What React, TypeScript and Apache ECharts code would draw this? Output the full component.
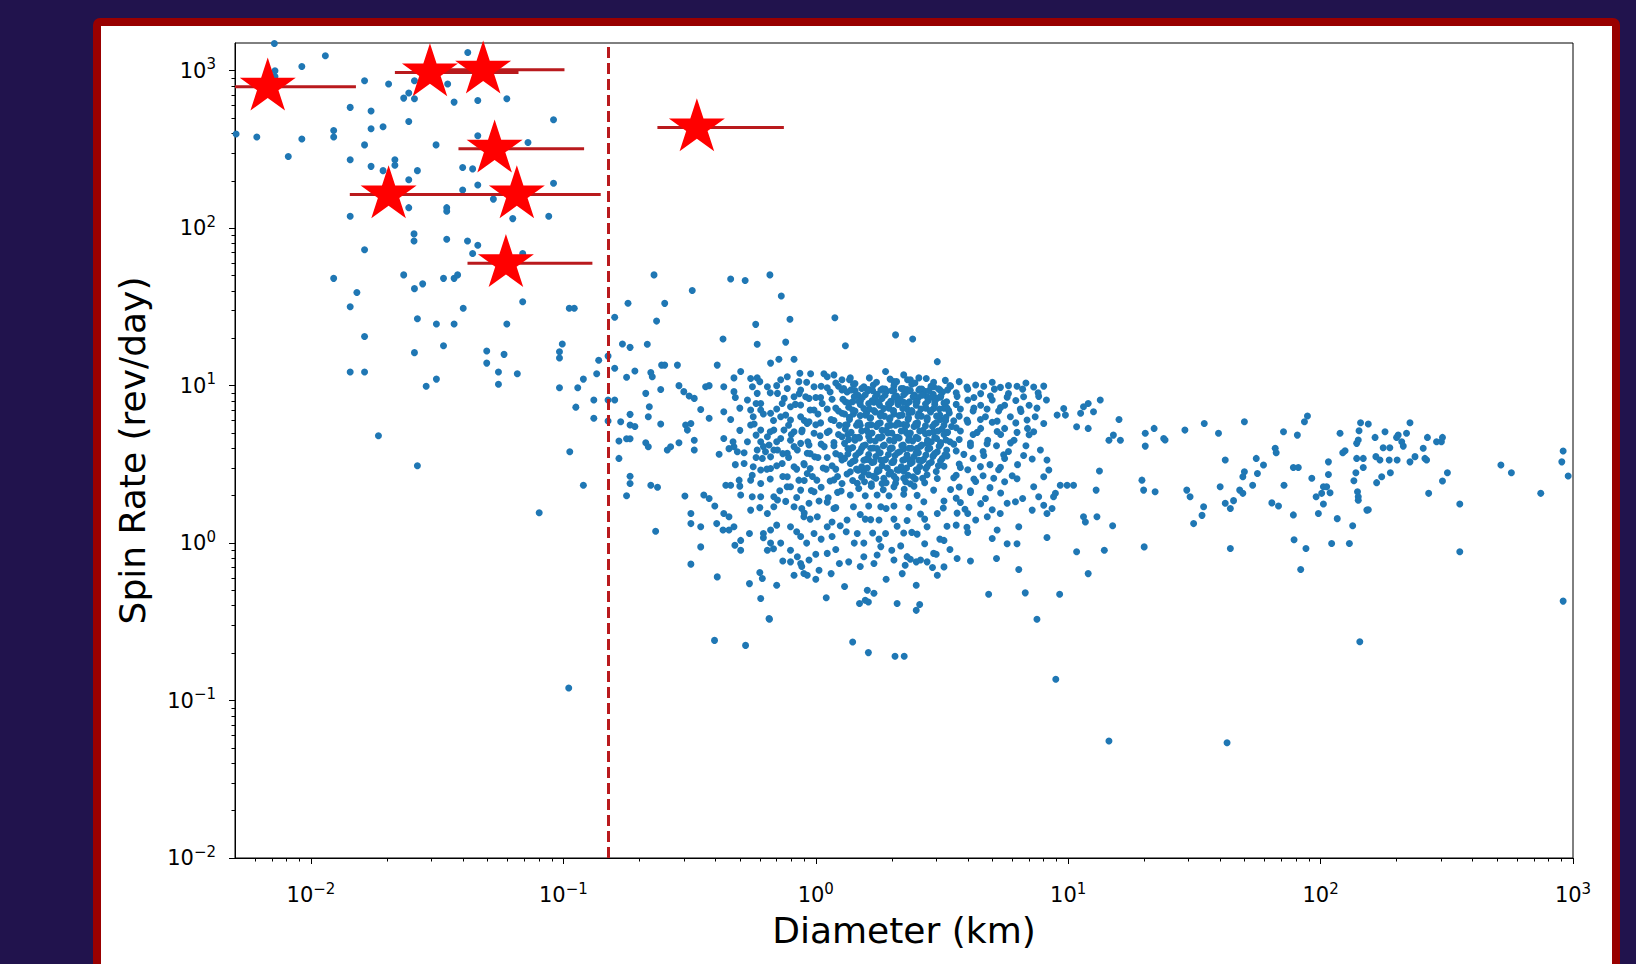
import React, { useEffect, useRef } from 'react';
import * as echarts from 'echarts';

const FONT = 'DejaVu Sans';

// Tick values
const xMajorTicks = [0.01, 0.1, 1, 10, 100, 1000];
const yMajorTicks = [0.01, 0.1, 1, 10, 100, 1000];

// Small bodies (left of the 150 m line)
const smallBodies: number[][] = [
  [0.00716,1490],[0.0114,1245],[0.0092,1065],[0.0072,1000],[0.0072,920],[0.0418,1307],[0.0163,863],[0.0203,823],
  [0.0257,863],[0.0233,670],[0.0244,722],[0.0257,664],[0.0348,823],[0.0369,632],[0.0458,647],[0.0597,664],
  [0.0143,585],[0.0173,555],[0.0244,476],[0.0914,488],[0.00505,396],[0.0061,379],[0.0092,368],[0.0123,417],
  [0.0123,379],[0.0173,428],[0.0193,441],[0.0163,338],[0.0313,338],[0.0458,386],[0.0724,350],[0.00813,285],
  [0.0143,272],[0.0173,247],[0.0215,272],[0.0215,251],[0.0193,232],[0.0264,232],[0.0244,203],[0.0399,243],
  [0.0437,238],[0.0399,175],[0.0458,188],[0.0528,153],[0.0914,193],[0.0143,119],[0.0244,135],[0.0345,135],
  [0.0345,128],[0.063,115],[0.0875,119],[0.0256,92],[0.0256,83],[0.0163,73],[0.0345,85],[0.0417,83],
  [0.0458,78],[0.0437,69],[0.069,69],[0.0123,48],[0.0152,39],[0.0143,31.7],[0.0233,50.5],[0.0257,41.3],
  [0.0277,44.3],[0.0335,48],[0.0369,48],[0.0381,50.5],[0.0264,26.6],[0.0314,24.6],[0.0369,24.6],[0.0401,31],
  [0.0597,24.6],[0.069,34.1],[0.1055,31],[0.1104,31],[0.0163,20.5],[0.0257,16.2],[0.0335,17.9],[0.0497,16.6],
  [0.0497,13.9],[0.0582,15.8],[0.0553,12.2],[0.0553,10.2],[0.0657,11.9],[0.0143,12.2],[0.0163,12.2],[0.0286,9.9],
  [0.0314,11],[0.0965,16.4],[0.0965,15],[0.099,18.4],[0.138,14.5],[0.1355,11.9],[0.12,11],[0.114,9.7],
  [0.0965,9.7],[0.132,8.1],[0.132,6.2],[0.112,7.3],[0.0185,4.8],[0.0264,3.1],[0.106,3.8],[0.12,2.33],
  [0.0802,1.56],[0.105,0.12]
];

// Transition region (0.15 - 0.7 km)
const transitionBodies: number[][] = [
  [0.1503,8.1],[0.1503,5.96],[0.1503,15.4],[0.1597,27.2],[0.1597,12.9],[0.1597,8.1],[0.1803,33.4],[0.1714,18.4],
  [0.1837,17.5],[0.178,11.3],[0.192,12.4],[0.1687,5.9],[0.1837,6.57],[0.1837,5.62],[0.192,5.5],[0.166,4.45],
  [0.178,4.6],[0.1837,4.6],[0.166,3.45],[0.1837,2.66],[0.1837,2.39],[0.178,2.0],
  [0.2286,50.5],[0.234,25.7],[0.215,18.3],[0.252,33.3],[0.245,13.5],[0.252,13.5],[0.222,12.1],[0.225,11.4],
  [0.212,8.93],[0.243,9.46],[0.219,7.35],[0.217,6.35],[0.243,5.7],[0.212,4.34],[0.217,4.09],[0.258,3.9],
  [0.266,4.09],[0.222,2.33],[0.236,2.26],[0.232,1.19],
  [0.283,13.5],[0.324,40.2],[0.287,10],[0.30,9.16],[0.315,8.6],[0.33,8.3],[0.305,5.62],[0.32,5.75],
  [0.31,5.22],[0.287,4.34],[0.33,4.5],[0.33,3.9],[0.35,7.06],[0.366,9.85],[0.378,10],[0.303,1.99],
  [0.32,1.54],[0.32,1.33],[0.35,1.27],[0.35,0.946],[0.32,0.735],[0.36,2.02],[0.378,1.92],
  [0.407,13.5],[0.429,19.8],[0.46,47.6],[0.432,9.85],[0.474,9.16],[0.474,11.2],[0.504,12.3],[0.378,6.2],
  [0.432,6.82],[0.432,4.62],[0.414,3.67],[0.453,3.98],[0.474,4.09],[0.489,3.8],[0.44,2.33],[0.46,2.33],
  [0.398,1.72],[0.405,1.33],[0.432,1.54],[0.453,1.47],[0.429,1.21],[0.453,1.21],[0.474,1.27],[0.478,0.97],
  [0.504,0.90],[0.504,1.04],[0.407,0.61],[0.497,2.51],[0.504,2.02],
  [0.525,46.5],[0.658,50.5],[0.578,24.5],[0.586,18.3],[0.552,11.1],[0.586,11.2],[0.662,13.9],[0.561,9.85],
  [0.586,8.93],[0.536,8.11],[0.605,7.71],[0.643,9.85],[0.552,7.0],[0.605,7.0],[0.565,6.35],[0.662,6.67],
  [0.552,5.62],[0.605,5.22],[0.643,4.73],[0.682,5.22],[0.536,4.4],[0.605,4.4],[0.653,4.2],[0.586,3.9],
  [0.632,3.8],[0.682,3.9],[0.614,3.45],[0.662,3.53],[0.52,3.2],[0.565,3.05],[0.605,2.91],[0.662,2.98],
  [0.552,2.51],[0.605,2.39],[0.605,1.97],[0.682,1.97],[0.552,1.62],[0.643,1.54],[0.682,1.70],[0.546,1.15],
  [0.62,1.15],[0.662,1.21],[0.662,1.0],[0.643,0.90],[0.546,0.553],[0.614,0.596],[0.605,0.445],[0.653,0.332],
  [0.397,0.241],[0.527,0.224]
];

// Main-belt cluster (0.7 - 10 km), outer parts
const mainBelt: number[][] = [
  [0.73,37.1],[0.79,26.4],[0.76,18.9],[0.714,14.7],[0.82,14.7],[0.726,10.9],[0.771,11.4],[0.865,12],
  [0.857,10.6],[0.705,8.93],[0.771,9.6],[0.82,8.5],[0.871,9.38],[0.736,7.71],[0.794,7.35],[0.871,7.53],
  [0.912,8.5],[0.726,6.35],[0.794,6.05],[0.871,6.35],[0.925,5.75],[0.748,5.22],[0.82,5.1],[0.883,5.22],
  [0.726,4.62],[0.794,4.5],[0.871,4.3],[0.705,3.9],[0.771,3.72],[0.845,3.9],[0.925,3.72],[0.736,3.2],
  [0.82,3.05],[0.897,3.2],[0.771,2.64],[0.857,2.51],[0.925,2.77],[0.794,2.28],[0.871,2.17],[0.705,1.88],
  [0.82,1.70],[0.897,1.47],[0.794,1.27],[0.871,1.10],[0.726,1.0],[0.794,0.9],[0.845,0.818],[0.794,0.76],
  [0.871,0.742],[0.82,0.625],[0.897,0.641],[0.925,0.625],[0.655,0.328],
  [0.954,11.9],[1.077,11.9],[1.11,11.4],[1.18,11.7],[1.19,27],
  [0.984,9.85],[1.11,9.7],[1.23,9.9],[0.94,8.3],[1.045,8.4],[1.16,8.2],[0.984,7.0],[1.11,7.1],
  [1.23,6.9],[0.94,5.9],[1.045,5.8],[1.18,6.0],[0.984,4.98],[1.11,5.05],[1.23,4.9],[0.94,4.2],
  [1.05,4.25],[1.18,4.15],[0.99,3.53],[1.11,3.5],[1.25,3.6],[0.95,2.98],[1.07,3.0],[1.2,2.95],
  [1.01,2.51],[1.14,2.48],[0.984,2.12],[1.22,2.1],[0.94,1.79],[1.11,1.82],[1.014,1.47],[1.11,1.27],
  [1.16,1.36],[0.984,1.15],[1.16,1.1],[0.94,0.78],[1.11,0.86],[1.24,0.742],[1.03,0.673],
  [1.27,10.9],[1.37,11.2],[1.55,9.85],[1.31,17.9],
  [1.27,9.38],[1.43,9.3],[1.62,9.45],[1.31,7.9],[1.5,7.95],[1.70,7.85],[1.27,6.67],[1.41,6.6],
  [1.59,6.7],[1.31,5.62],[1.5,5.6],[1.66,5.65],[1.27,4.73],[1.43,4.7],[1.62,4.76],[1.34,3.99],
  [1.52,4.0],[1.27,3.37],[1.43,3.35],[1.62,3.4],[1.37,2.84],[1.55,2.82],[1.27,2.39],[1.46,2.4],
  [1.66,2.38],[1.37,2.02],[1.57,2.0],[1.41,1.70],[1.62,1.72],[1.33,1.4],[1.57,1.42],[1.46,1.15],
  [1.68,1.16],[1.42,1.0],[1.55,0.818],[1.70,0.742],[1.6,0.502],[1.57,0.434],
  [1.40,0.2355],[1.616,0.2016],[2.06,0.191],[2.24,0.191],[1.49,0.413],[1.616,0.423],[2.1,0.413],[2.5,0.374],
  [2.58,0.407],
  [1.89,12.3],[2.04,10.6],[2.23,11.7],[2.37,10.9],[2.56,11.2],[2.07,21],[2.42,19.8],
  [1.81,9.38],[2.04,9.3],[2.30,9.45],[2.56,9.35],[1.75,7.9],[1.98,7.95],[2.23,7.85],[2.52,7.9],
  [1.81,6.67],[2.04,6.6],[2.34,6.7],[2.56,6.65],[1.75,5.62],[1.98,5.6],[2.23,5.66],[2.52,5.6],
  [1.83,4.73],[2.07,4.7],[2.34,4.76],[1.75,3.99],[1.98,4.02],[2.23,3.96],[2.52,4.0],[1.81,3.37],
  [2.04,3.35],[2.34,3.4],[2.56,3.36],[1.75,2.84],[1.98,2.82],[2.23,2.86],[1.83,2.39],[2.07,2.4],
  [2.37,2.38],[1.75,2.02],[1.95,2.0],[2.23,2.04],[2.52,2.01],[1.81,1.70],[2.04,1.72],[2.34,1.69],
  [1.78,1.4],[2.04,1.42],[2.30,1.39],[1.89,1.15],[2.23,1.16],[2.52,1.14],[1.81,0.95],[2.17,0.96],
  [2.04,0.78],[2.37,0.79],
  [3.03,14.2],[8.0,9.93],[9.6,7.16],[9.75,6.5],[9.04,6.5],[3.63,0.798],[3.03,0.625],[3.22,0.706],
  [2.26,0.724],[2.3,0.82],[2.6,0.78],[2.76,0.76],[4.78,1.47],[5.23,1.21],[5.73,0.99],[6.27,0.99],
  [5.73,1.79],[6.18,1.83],[5.38,1.54],[6.37,1.27],[7.2,1.62],[8.0,1.74],[8.24,1.54],[8.63,1.66],
  [7.64,1.97],[8.75,1.97],[9.3,2.33],[9.9,2.33],[8.9,2.07],[7.76,3.9],[8.24,3.37],[8.38,2.91],
  [8.0,2.64],[7.3,2.28],[5.2,0.798],[6.37,0.68],[6.76,0.483],[4.84,0.473],[9.25,0.473],[8.24,1.086],
  [7.52,0.328],[8.93,0.1365],
  [2.93,9.84],[3.42,9.9],[3.97,9.8],[4.63,9.9],[5.39,9.75],[6.27,9.9],[7.30,9.8],
  [2.76,8.5],[3.12,8.45],[3.63,8.55],[4.23,8.4],[4.92,8.6],[5.73,8.45],[6.66,8.5],[7.64,8.55],
  [2.93,7.16],[3.31,7.2],[3.74,7.1],[4.23,7.2],[4.77,7.1],[5.39,7.25],[6.46,7.1],[7.52,7.2],
  [2.76,6.04],[3.12,6.1],[3.52,5.98],[3.97,6.05],[4.49,6.1],[5.23,5.95],[6.87,6.05],
  [2.93,5.1],[3.31,5.05],[3.74,5.15],[4.36,5.05],[5.23,5.12],[6.27,5.05],[7.30,5.1],
  [2.76,4.3],[3.12,4.35],[3.52,4.25],[4.10,4.32],[4.77,4.28],[5.91,4.33],
  [2.93,3.62],[3.31,3.58],[3.86,3.66],[4.63,3.6],[5.55,3.64],[6.66,3.6],
  [2.76,3.05],[3.22,3.08],[3.74,3.02],[4.49,3.06],[5.39,3.03],
  [3.03,2.57],[3.52,2.6],[4.23,2.55],[5.07,2.58],[6.27,2.56],
  [2.93,2.17],[3.42,2.19],[4.10,2.15],[2.68,1.83],[3.22,1.85],[3.74,1.81],
  [3.03,1.54],[3.63,1.55],[2.76,1.27],[3.31,1.28],[3.97,1.26],[3.22,1.04],[2.93,0.86]
];

// Densest part of the main-belt cluster (1.3 - 3.4 km)
const coreCluster: number[][] = [
  [1.36,10.9],[1.63,11.2],[1.97,11.0],[2.31,10.9],[2.74,11.1],[3.26,10.8],
  [1.29,9.6],[1.41,10.2],[1.56,9.7],[1.69,10.1],[1.88,9.5],[2.04,10.0],[2.22,9.6],[2.4,10.2],[2.63,9.5],[2.86,9.9],[3.1,9.4],[3.4,10.0],
  [1.33,9.1],[1.47,8.7],[1.61,9.3],[1.75,8.8],[1.91,9.2],[2.09,8.6],[2.27,9.0],[2.46,8.7],[2.7,9.2],[2.92,8.8],[3.18,9.1],
  [1.28,8.2],[1.4,7.9],[1.53,8.4],[1.67,8.0],[1.83,8.3],[1.99,7.8],[2.16,8.2],[2.35,7.9],[2.55,8.4],[2.78,8.0],[3.02,8.3],[3.3,7.9],
  [1.35,7.3],[1.5,7.6],[1.63,7.1],[1.79,7.5],[1.95,7.2],[2.12,7.6],[2.3,7.1],[2.5,7.5],[2.73,7.2],[2.96,7.6],[3.22,7.2],
  [1.3,6.6],[1.43,6.9],[1.57,6.5],[1.72,6.8],[1.87,6.4],[2.03,6.9],[2.2,6.5],[2.41,6.8],[2.62,6.4],[2.85,6.8],[3.1,6.5],[3.38,6.7],
  [1.36,6.1],[1.49,5.8],[1.64,6.2],[1.8,5.8],[1.96,6.1],[2.14,5.7],[2.32,6.1],[2.53,5.8],[2.76,6.2],[3.0,5.8],[3.27,6.0],
  [1.31,5.3],[1.45,5.6],[1.59,5.2],[1.74,5.5],[1.9,5.2],[2.07,5.6],[2.25,5.2],[2.45,5.5],[2.66,5.2],[2.9,5.5],[3.16,5.3],[3.45,5.5],
  [1.34,4.9],[1.48,4.7],[1.62,5.0],[1.77,4.7],[1.93,5.0],[2.11,4.7],[2.29,5.0],[2.5,4.7],[2.72,4.95],[2.96,4.7],[3.22,4.9],
  [1.3,4.3],[1.43,4.5],[1.57,4.2],[1.72,4.45],[1.87,4.2],[2.04,4.45],[2.22,4.2],[2.42,4.45],[2.63,4.2],[2.87,4.4],[3.12,4.25],[3.4,4.4],
  [1.36,3.95],[1.5,3.8],[1.65,4.0],[1.8,3.75],[1.97,3.95],[2.15,3.8],[2.34,4.0],[2.55,3.75],[2.78,3.95],[3.03,3.8],[3.3,3.9],
  [1.3,3.45],[1.44,3.6],[1.58,3.4],[1.73,3.55],[1.89,3.4],[2.06,3.6],[2.25,3.4],[2.45,3.55],[2.67,3.4],[2.91,3.55],[3.17,3.45],
  [1.37,3.2],[1.52,3.05],[1.67,3.25],[1.83,3.1],[2.0,3.25],[2.18,3.05],[2.37,3.2],[2.58,3.05],[2.81,3.2],[3.06,3.1],
  [1.33,2.75],[1.47,2.9],[1.62,2.72],[1.78,2.88],[1.95,2.75],[2.13,2.9],[2.32,2.7],[2.53,2.85],[2.76,2.72],[3.0,2.85],
  [1.4,2.5],[1.56,2.45],[1.73,2.58],[1.9,2.42],[2.08,2.55],[2.27,2.45],[2.48,2.55],[2.7,2.42],
  [1.48,2.22],[1.66,2.3],[1.85,2.18],[2.04,2.28],[2.24,2.2],[2.45,2.3],
  [1.43,10.3],[1.74,10.5],[2.09,10.6],[2.47,10.4],[2.93,10.5],
  [1.38,9.4],[1.52,9.6],[1.68,9.3],[1.84,9.55],[2.0,9.3],[2.18,9.6],[2.37,9.3],[2.58,9.5],[2.81,9.3],[3.06,9.55],[3.33,9.4],
  [1.42,8.5],[1.57,8.75],[1.72,8.45],[1.88,8.7],[2.05,8.45],[2.23,8.75],[2.43,8.5],[2.64,8.7],[2.88,8.45],[3.13,8.6],
  [1.35,7.75],[1.48,7.95],[1.62,7.7],[1.78,7.9],[1.94,7.65],[2.11,7.95],[2.3,7.7],[2.5,7.9],[2.72,7.65],[2.96,7.9],[3.22,7.75],
  [1.4,7.0],[1.55,7.15],[1.7,6.95],[1.86,7.15],[2.03,6.95],[2.21,7.15],[2.4,6.95],[2.61,7.1],[2.84,6.95],[3.09,7.1],[3.36,6.95],
  [1.36,6.3],[1.5,6.45],[1.65,6.25],[1.8,6.45],[1.97,6.25],[2.14,6.45],[2.33,6.25],[2.54,6.4],[2.76,6.25],[3.01,6.4],[3.28,6.3],
  [1.33,5.65],[1.47,5.8],[1.61,5.6],[1.77,5.75],[1.93,5.55],[2.11,5.8],[2.29,5.6],[2.49,5.75],[2.72,5.55],[2.95,5.7],[3.22,5.6],
  [1.38,5.05],[1.52,5.15],[1.67,5.0],[1.83,5.2],[2.0,5.0],[2.18,5.15],[2.37,5.0],[2.58,5.15],[2.81,5.0],[3.05,5.15],[3.33,5.05],
  [1.35,4.55],[1.49,4.65],[1.64,4.5],[1.8,4.65],[1.96,4.5],[2.14,4.65],[2.33,4.5],[2.54,4.62],[2.77,4.5],[3.01,4.62],[3.28,4.52],
  [1.4,4.05],[1.54,4.15],[1.69,4.02],[1.85,4.15],[2.01,4.02],[2.19,4.15],[2.39,4.0],[2.6,4.12],[2.83,4.0],[3.08,4.12],
  [1.34,3.68],[1.48,3.75],[1.62,3.65],[1.78,3.75],[1.94,3.65],[2.11,3.75],[2.3,3.62],[2.5,3.74],[2.73,3.62],[2.97,3.72],[3.25,3.64],
  [1.4,3.3],[1.55,3.36],[1.7,3.28],[1.86,3.36],[2.03,3.26],[2.21,3.36],[2.41,3.26],[2.63,3.34],[2.87,3.26],[3.12,3.32],
  [1.45,2.95],[1.6,3.0],[1.76,2.92],[1.92,3.0],[2.1,2.92],[2.29,3.0],[2.5,2.92],[2.73,2.98],
  [1.52,2.62],[1.69,2.66],[1.86,2.58],[2.04,2.66],[2.23,2.58],[2.43,2.64],[2.65,2.58]
];

// Cluster halo, sub-km side (0.45 - 1.25 km)
const haloSmall: number[][] = [
  [0.6,10.6],[0.7,10.0],[0.92,10.5],[1.05,9.9],[1.2,10.4],
  [0.48,8.4],[0.66,9.0],[0.75,8.3],[0.86,8.9],[1.0,8.4],[1.14,9.1],
  [0.5,7.2],[0.58,7.7],[0.7,7.1],[0.83,7.6],[0.95,7.0],[1.06,7.7],[1.2,7.2],
  [0.46,6.1],[0.62,6.6],[0.68,6.0],[0.76,6.5],[0.9,6.0],[1.02,6.6],[1.15,6.1],
  [0.5,5.2],[0.57,5.7],[0.66,5.1],[0.78,5.6],[0.88,5.1],[1.0,5.65],[1.13,5.15],[1.24,5.6],
  [0.47,4.4],[0.58,4.85],[0.7,4.4],[0.8,4.9],[0.93,4.4],[1.04,4.8],[1.18,4.35],
  [0.52,3.75],[0.62,4.1],[0.74,3.7],[0.82,4.1],[0.95,3.7],[1.08,4.1],[1.2,3.7],
  [0.48,3.15],[0.58,3.5],[0.7,3.1],[0.78,3.5],[0.9,3.15],[1.02,3.5],[1.16,3.1],
  [0.56,2.7],[0.64,2.95],[0.74,2.65],[0.84,2.95],[0.97,2.65],[1.1,2.95],[1.22,2.65],
  [0.5,2.3],[0.66,2.55],[0.77,2.28],[0.9,2.5],[1.05,2.26],[1.18,2.52],
  [0.56,1.97],[0.72,2.15],[0.84,1.95],[0.96,2.16],[1.12,1.94],[1.26,2.14],
  [0.6,1.68],[0.76,1.84],[0.88,1.66],[1.03,1.85],[1.18,1.66]
];

// Cluster halo, multi-km side (3.4 - 9 km)
const haloLarge: number[][] = [
  [3.7,10.6],[4.3,10.1],[5.0,10.5],[5.8,10.0],[6.8,10.4],
  [3.6,9.0],[4.0,9.5],[4.5,8.9],[5.1,9.5],[5.8,8.9],[6.6,9.5],[7.6,9.0],
  [3.6,7.6],[4.0,8.1],[4.5,7.5],[5.0,8.1],[5.6,7.5],[6.2,8.05],[7.0,7.5],[8.2,8.1],
  [3.7,6.4],[4.2,6.9],[4.7,6.35],[5.3,6.9],[5.9,6.35],[6.5,6.85],[7.4,6.35],
  [3.6,5.4],[4.0,5.85],[4.5,5.35],[5.0,5.85],[5.6,5.35],[6.2,5.8],[6.9,5.35],[8.0,5.75],
  [3.7,4.55],[4.2,4.9],[4.8,4.5],[5.4,4.9],[6.1,4.5],[7.0,4.88],
  [3.6,3.85],[4.1,4.15],[4.6,3.82],[5.2,4.15],[5.8,3.82],[6.8,4.15],
  [3.7,3.18],[4.2,3.45],[4.9,3.15],[5.6,3.45],[6.3,3.15],[7.2,3.42],
  [3.6,2.7],[4.0,2.92],[4.6,2.68],[5.3,2.92],[6.0,2.68],
  [3.7,2.27],[4.3,2.46],[4.9,2.25],[5.6,2.45],
  [3.6,1.93],[4.1,2.1],[4.7,1.92],[5.4,2.08],[6.6,1.92],
  [3.9,1.64],[4.5,1.78],[5.0,1.63]
];

// Slow rotators below the cluster (0.5 - 6 km)
const slowRotators: number[][] = [
  [0.9,1.55],[1.2,1.68],[1.5,1.52],[1.9,1.66],[2.6,1.53],[3.2,1.67],[4.0,1.54],
  [0.7,1.3],[0.95,1.42],[1.25,1.29],[1.65,1.41],[2.1,1.28],[2.7,1.42],[3.6,1.3],[4.3,1.4],
  [0.62,1.08],[0.84,1.18],[1.05,1.06],[1.32,1.18],[1.78,1.06],[2.4,1.17],[3.1,1.06],[4.0,1.17],[5.0,1.07],
  [0.68,0.92],[0.92,1.0],[1.2,0.91],[1.55,1.0],[2.0,0.9],[2.7,0.99],[3.4,0.91],
  [0.74,0.77],[1.0,0.85],[1.35,0.76],[1.75,0.84],[2.5,0.76],[3.0,0.85],[4.1,0.77],
  [0.6,0.65],[0.88,0.71],[1.15,0.64],[1.5,0.71],[2.2,0.64],[2.9,0.7],
  [0.7,0.54],[1.0,0.59],[1.3,0.53],[1.9,0.59],[2.5,0.54],
  [1.1,0.45],[1.7,0.48]
];

// Larger bodies (> 10 km)
const largeBodies: number[][] = [
  [13.4,8.1],[15.9,6.1],[11.5,7.35],[12.0,7.7],[12.6,6.82],[11.2,6.67],[12.0,5.35],[10.8,5.48],
  [15.1,4.85],[16.1,4.5],[14.5,4.5],[20.2,4.98],[20.2,4.13],[21.9,5.35],[23.9,4.62],[24.2,4.51],
  [29.0,5.22],[34.6,5.75],[39.4,4.98],[41.9,3.37],[40,2.28],[41.9,1.79],[19.6,2.51],[19.9,2.17],
  [22.1,2.12],[29.5,2.17],[30.4,1.97],[31.4,1.33],[33.9,1.50],[34.4,1.70],[20,0.946],[43.9,0.925],
  [13.3,2.87],[12.9,2.17],[11.5,1.47],[11.7,1.36],[13.0,1.47],[15.0,1.29],[10.8,0.88],[13.9,0.9],
  [12.0,0.64],[10.5,2.33],[14.5,0.0553],[42.6,0.054],
  [49.9,5.9],[45.2,1.86],[43.9,1.66],[47.8,2.17],[49.2,2.07],[49.2,2.64],[49.9,2.84],[53.8,2.33],
  [55.6,3.45],[59.4,3.13],[56.2,2.77],[64.1,1.80],[68.1,1.72],[66.1,4.0],[66.7,3.75],[71.3,5.1],
  [71.6,2.33],[78,1.51],[80.9,4.85],[78,3.02],[81.6,3.02],[78.5,1.05],[87.5,0.925],[83.4,0.68],
  [86.3,5.9],[88.7,6.41],[92.3,2.58],[96,1.97],[98,1.54],[102.6,2.28],[102.6,1.77],[109,2.09],
  [101,2.07],[105.7,2.28],[107.4,3.28],[107.4,2.73],[110.6,0.995],[130,0.995],[116.4,1.43],[119.4,4.98],
  [122.4,3.75],[125,3.86],[134,1.29],[135.5,2.49],[138,2.80],[139,4.30],[141,4.51],[142,5.17],
  [144,5.81],[154.5,5.70],[139,3.45],[147.6,3.45],[147.6,3.02],[140,2.12],[141,1.97],[141,1.87],
  [152.5,1.62],[154.5,1.63],[143,0.236],[164.4,4.69],[165.6,3.54],[171.8,3.37],[166.7,2.42],[174.6,2.64],
  [180,5.1],[177,4.03],[188,4.03],[187,3.37],[189,2.80],[200,4.69],[203,4.85],[209.6,4.40],
  [212.6,4.13],[219,4.98],[201,3.37],[226,3.28],[236.6,3.54],[226,5.81],[255,4.0],[265,4.69],
  [259,3.45],[263,3.37],[288,4.40],[301,4.40],[304,4.69],[268,2.07],[304,2.48],[318,2.80],
  [356,1.77],[356,0.88],[518,3.13],[570,2.80],[745,2.07],[914,3.84],[903,3.28],[957,2.67],[914,0.428]
];

// Highlighted objects (stars with diameter uncertainty)
const starDiameter = [0.00674, 0.0296, 0.0481, 0.0534, 0.0203, 0.0654, 0.0592, 0.338];
const starSpin = [791, 975, 1015, 319, 163.5, 163.5, 59.9, 436];
const starDiameterLow = [0.003, 0.0215, 0.03, 0.0384, 0.01425, 0.032, 0.0417, 0.2358];
const starDiameterHigh = [0.01507, 0.0664, 0.101, 0.1208, 0.07, 0.1406, 0.1303, 0.7474];

const cutoffDiameter = 0.15;

const STAR_PATH = 'path://M0,-100L22.45,-30.9L95.11,-30.9L36.33,11.8L58.78,80.9L0,38.2L-58.78,80.9L-36.33,11.8L-95.11,-30.9L-22.45,-30.9Z';
const ERR_COLOR = '#b91a1d';

function minorTicks(lo: number, hi: number): number[] {
  const out: number[] = [];
  for (let k = -3; k <= 3; k++) {
    for (let m = 2; m <= 9; m++) {
      const v = m * Math.pow(10, k);
      if (v > lo * 1.0001 && v < hi * 0.9999) out.push(v);
    }
  }
  return out;
}

const supLabel = (v: number) => {
  const e = Math.round(Math.log10(v));
  const s = e < 0 ? '\u2212' + String(-e) : String(e);
  return '{b|10}{s|' + s + '}';
};

const labelRich = {
  b: { fontSize: 21, fontFamily: FONT, color: '#000' },
  s: { fontSize: 15, fontFamily: FONT, color: '#000', padding: [0, 0, 13, 0] },
};

export default function App() {
  const ref = useRef<HTMLDivElement>(null);
  useEffect(() => {
    if (!ref.current) return;
    const chart = echarts.init(ref.current, null, { renderer: 'svg' });
    const X_MIN = 0.005, X_MAX = 1000, Y_MIN = 0.01, Y_MAX = 1500;
    const allPoints = [...smallBodies, ...transitionBodies, ...mainBelt, ...coreCluster, ...haloSmall, ...haloLarge, ...slowRotators, ...largeBodies];
    const errData = starDiameter.map((_, i) => [starDiameterLow[i], starDiameterHigh[i], starSpin[i]]);
    const starData = starDiameter.map((d, i) => [d, starSpin[i]]);
    const option: any = {
      animation: false,
      backgroundColor: 'transparent',
      grid: { left: 235, top: 43, width: 1338, height: 815, show: true, borderColor: '#000', borderWidth: 1, backgroundColor: 'transparent' },
      xAxis: [
        {
          type: 'log', logBase: 10, min: X_MIN, max: X_MAX, position: 'bottom',
          name: 'Diameter (km)', nameLocation: 'middle', nameGap: 54,
          nameTextStyle: { fontSize: 36, fontFamily: FONT, color: '#000' },
          axisLine: { show: true, lineStyle: { color: '#000', width: 1 } },
          axisTick: { show: true, length: 6, customValues: xMajorTicks, lineStyle: { color: '#000', width: 1 } },
          axisLabel: { show: true, customValues: xMajorTicks, margin: 23, formatter: supLabel, rich: labelRich },
          splitLine: { show: false },
          minorTick: { show: false },
        },
        {
          type: 'log', logBase: 10, min: X_MIN, max: X_MAX, position: 'bottom', gridIndex: 0,
          axisLine: { show: false },
          axisTick: { show: true, length: 3.5, customValues: minorTicks(X_MIN, X_MAX), lineStyle: { color: '#000', width: 1 } },
          axisLabel: { show: false },
          splitLine: { show: false },
        },
      ],
      yAxis: [
        {
          type: 'log', logBase: 10, min: Y_MIN, max: Y_MAX, position: 'left',
          name: 'Spin Rate (rev/day)', nameLocation: 'middle', nameGap: 85,
          nameTextStyle: { fontSize: 36, fontFamily: FONT, color: '#000' },
          axisLine: { show: true, lineStyle: { color: '#000', width: 1 } },
          axisTick: { show: true, length: 6, customValues: yMajorTicks, lineStyle: { color: '#000', width: 1 } },
          axisLabel: { show: true, customValues: yMajorTicks, margin: 19, formatter: supLabel, rich: labelRich },
          splitLine: { show: false },
          minorTick: { show: false },
        },
        {
          type: 'log', logBase: 10, min: Y_MIN, max: Y_MAX, position: 'left', gridIndex: 0,
          axisLine: { show: false },
          axisTick: { show: true, length: 3.5, customValues: minorTicks(Y_MIN, Y_MAX), lineStyle: { color: '#000', width: 1 } },
          axisLabel: { show: false },
          splitLine: { show: false },
        },
      ],
      series: [
        {
          type: 'scatter', xAxisIndex: 0, yAxisIndex: 0,
          data: allPoints, symbol: 'circle', symbolSize: 7,
          itemStyle: { color: '#1f77b4', opacity: 1 }, z: 2, silent: true,
          markLine: {
            silent: true, symbol: 'none', label: { show: false },
            lineStyle: { color: ERR_COLOR, width: 3, type: [11, 5], opacity: 1 },
            data: [{ xAxis: cutoffDiameter }],
          },
        },
        {
          type: 'custom', xAxisIndex: 0, yAxisIndex: 0, z: 3, silent: true,
          data: errData,
          encode: { x: [0, 1], y: 2 },
          renderItem: (params: any, api: any) => {
            const p1 = api.coord([api.value(0), api.value(2)]);
            const p2 = api.coord([api.value(1), api.value(2)]);
            const cs = params.coordSys;
            const x1 = Math.max(p1[0], cs.x);
            const x2 = Math.min(p2[0], cs.x + cs.width);
            return { type: 'line', shape: { x1, y1: p1[1], x2, y2: p2[1] }, style: { stroke: ERR_COLOR, lineWidth: 3 } };
          },
        },
        {
          type: 'scatter', xAxisIndex: 0, yAxisIndex: 0, z: 4, silent: true,
          data: starData, symbol: STAR_PATH, symbolSize: [56, 53], symbolOffset: [0, -2.8],
          itemStyle: { color: '#ff0000', opacity: 1 },
        },
      ],
    };
    chart.setOption(option);
    return () => chart.dispose();
  }, []);

  return (
    <div style={{ position: 'fixed', left: 0, top: 0, width: 1636, height: 964, background: '#21134d', overflow: 'hidden' }}>
      <div style={{ position: 'absolute', left: 93, top: 18, width: 1527, height: 1100, boxSizing: 'border-box', border: '8px solid #990000', borderRadius: 7, background: '#ffffff' }} />
      <div ref={ref} style={{ position: 'absolute', left: 0, top: 0, width: 1636, height: 964 }} />
    </div>
  );
}
